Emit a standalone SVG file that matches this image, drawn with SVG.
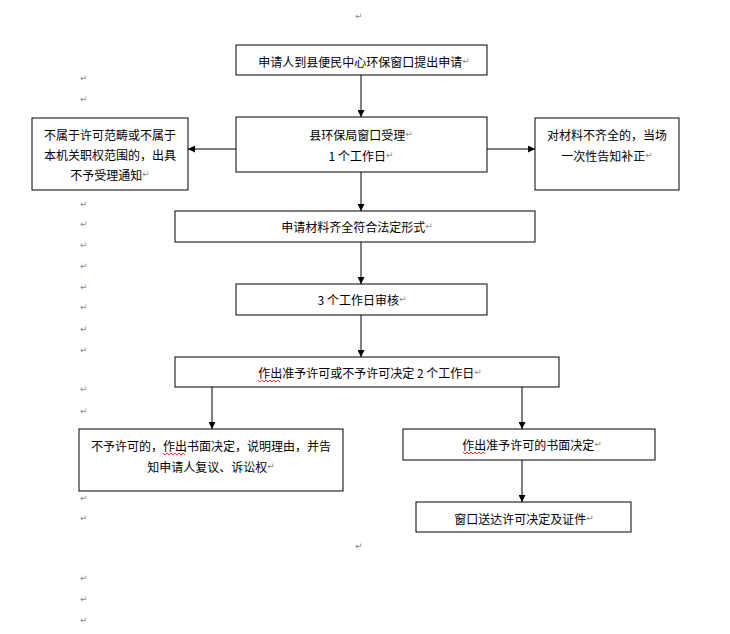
<svg xmlns="http://www.w3.org/2000/svg" width="730" height="634" viewBox="0 0 730 634">
<style>
.box{fill:#fff;stroke:#000;stroke-width:1}
.t{font-family:"Noto Sans CJK SC","Liberation Sans",sans-serif;font-size:12px;fill:#000;text-anchor:middle;dominant-baseline:central}
.pm{font-family:"DejaVu Sans",sans-serif;font-size:9px;fill:#888}
.c{stroke:#000;stroke-width:1;fill:none}
.sq{stroke:#e00;stroke-width:0.8;fill:none}
</style>
<defs>
<marker id="ah" viewBox="0 0 10 10" refX="10" refY="5" markerWidth="7" markerHeight="7" markerUnits="userSpaceOnUse" orient="auto">
<path d="M0,0 L10,5 L0,10 z" fill="#000"/>
</marker>
</defs>
<rect width="730" height="634" fill="#fff"/>
<g id="marks">
<text class="pm" x="355" y="19">↵</text>
<text class="pm" x="80" y="81">↵</text>
<text class="pm" x="80" y="102">↵</text>
<text class="pm" x="80" y="207">↵</text>
<text class="pm" x="80" y="227">↵</text>
<text class="pm" x="80" y="248">↵</text>
<text class="pm" x="80" y="269">↵</text>
<text class="pm" x="80" y="290">↵</text>
<text class="pm" x="80" y="310">↵</text>
<text class="pm" x="80" y="332">↵</text>
<text class="pm" x="80" y="353">↵</text>
<text class="pm" x="80" y="392">↵</text>
<text class="pm" x="80" y="414">↵</text>
<text class="pm" x="80" y="501">↵</text>
<text class="pm" x="80" y="521">↵</text>
<text class="pm" x="355" y="549">↵</text>
<text class="pm" x="80" y="581">↵</text>
<text class="pm" x="80" y="602">↵</text>
<text class="pm" x="80" y="623">↵</text>
</g>
<g id="connectors">
<line class="c" x1="361" y1="75" x2="361" y2="117" marker-end="url(#ah)"/>
<line class="c" x1="236" y1="149" x2="188" y2="149" marker-end="url(#ah)"/>
<line class="c" x1="487" y1="149" x2="535" y2="149" marker-end="url(#ah)"/>
<line class="c" x1="361" y1="172" x2="361" y2="211" marker-end="url(#ah)"/>
<line class="c" x1="361" y1="242" x2="361" y2="284" marker-end="url(#ah)"/>
<line class="c" x1="361" y1="315" x2="361" y2="357" marker-end="url(#ah)"/>
<line class="c" x1="212" y1="387" x2="212" y2="429" marker-end="url(#ah)"/>
<line class="c" x1="522" y1="387" x2="522" y2="429" marker-end="url(#ah)"/>
<line class="c" x1="522" y1="460" x2="522" y2="502" marker-end="url(#ah)"/>
</g>
<g id="n1">
<rect class="box" x="236" y="45" width="251" height="30"/>
<text class="t" x="364" y="61">申请人到县便民中心环保窗口提出申请<tspan class="pm">↵</tspan></text>
</g>
<g id="n2">
<rect class="box" x="236" y="117" width="251" height="55"/>
<text class="t" x="361" y="134">县环保局窗口受理<tspan class="pm">↵</tspan></text>
<text class="t" x="361" y="155">1 个工作日<tspan class="pm">↵</tspan></text>
</g>
<g id="n3">
<rect class="box" x="32" y="118" width="156" height="72"/>
<text class="t" x="110" y="134">不属于许可范畴或不属于</text>
<text class="t" x="110" y="154">本机关职权范围的，出具</text>
<text class="t" x="110" y="174">不予受理通知<tspan class="pm">↵</tspan></text>
</g>
<g id="n4">
<rect class="box" x="535" y="118" width="144" height="72"/>
<text class="t" x="607" y="134">对材料不齐全的，当场</text>
<text class="t" x="607" y="155">一次性告知补正<tspan class="pm">↵</tspan></text>
</g>
<g id="n5">
<rect class="box" x="175" y="211" width="360" height="31"/>
<text class="t" x="357" y="226">申请材料齐全符合法定形式<tspan class="pm">↵</tspan></text>
</g>
<g id="n6">
<rect class="box" x="236" y="284" width="251" height="31"/>
<text class="t" x="362" y="299">3 个工作日审核<tspan class="pm">↵</tspan></text>
</g>
<g id="n7">
<rect class="box" x="175" y="357" width="384" height="30"/>
<text class="t" x="370" y="372">作出准予许可或不予许可决定 2 个工作日<tspan class="pm">↵</tspan></text>
<path class="sq" d="M258,380 l2,2 l2,-2 l2,2 l2,-2 l2,2 l2,-2 l2,2 l2,-2 l2,2 l2,-2 l2,2"/>
</g>
<g id="n8">
<rect class="box" x="79" y="429" width="264" height="62"/>
<text class="t" x="211" y="445">不予许可的，作出书面决定，说明理由，并告</text>
<text class="t" x="211" y="466">知申请人复议、诉讼权<tspan class="pm">↵</tspan></text>
<path class="sq" d="M163,453 l2,2 l2,-2 l2,2 l2,-2 l2,2 l2,-2 l2,2 l2,-2 l2,2 l2,-2 l2,2"/>
</g>
<g id="n9">
<rect class="box" x="403" y="429" width="252" height="31"/>
<text class="t" x="532" y="444">作出准予许可的书面决定<tspan class="pm">↵</tspan></text>
<path class="sq" d="M463,452 l2,2 l2,-2 l2,2 l2,-2 l2,2 l2,-2 l2,2 l2,-2 l2,2 l2,-2 l2,2"/>
</g>
<g id="n10">
<rect class="box" x="416" y="502" width="215" height="30"/>
<text class="t" x="524" y="518">窗口送达许可决定及证件<tspan class="pm">↵</tspan></text>
</g>
</svg>
